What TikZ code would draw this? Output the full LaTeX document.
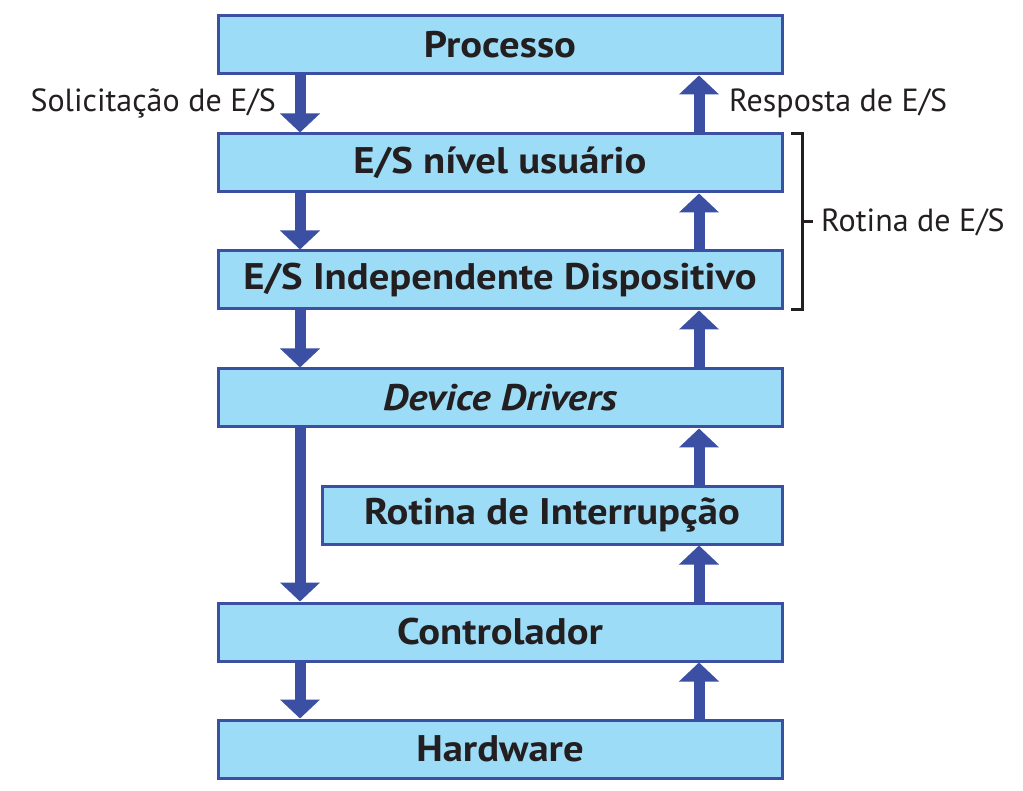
\documentclass[tikz,border=0pt]{standalone}
\usepackage{fontspec}
\setmainfont{PT Sans}
\newfontfamily\layerfont[FakeStretch=1.1]{PT Sans}
\usetikzlibrary{arrows.meta}
\definecolor{boxfill}{HTML}{9DDCF7}
\definecolor{boxline}{HTML}{3B4FA3}
\definecolor{txt}{HTML}{231F20}
\tikzset{
  layer/.style={draw=boxline, line width=3pt, fill=boxfill, minimum height=58pt,
    inner sep=0pt, text=txt, font=\layerfont\fontsize{37}{42}\selectfont\bfseries},
  wide/.style={layer, minimum width=564pt},
  flow/.style={draw=boxline, line width=11pt, -{Triangle[width=39pt,length=19pt]}, shorten <=-1pt},
  lbl/.style={text=txt, font=\fontsize{32}{38}\selectfont, inner sep=0pt},
  brace/.style={draw=txt, line width=3pt}
}
\begin{document}
\begin{tikzpicture}[x=1pt,y=-1pt]
\useasboundingbox (0,0) rectangle (1023,791);
\node[wide] (proc) at (500,45) {Processo};
\node[wide] (niv) at (500,163) {E/S nível usuário};
\node[wide] (ind) at (500,280) {E/S Independente Dispositivo};
\node[wide] (dd) at (500,398) {\itshape Device Drivers};
\node[layer, minimum width=460pt] (rot) at (552,515) {Rotina de Interrupção};
\node[wide] (ctl) at (500,632) {Controlador};
\node[wide] (hw) at (500,749) {Hardware};
\coordinate (lx) at (300,0);
\coordinate (rx) at (699,0);
% downward (request) arrows
\draw[flow] (proc.south -| lx) -- (niv.north -| lx);
\draw[flow] (niv.south -| lx) -- (ind.north -| lx);
\draw[flow] (ind.south -| lx) -- (dd.north -| lx);
\draw[flow] (dd.south -| lx) -- (ctl.north -| lx);
\draw[flow] (ctl.south -| lx) -- (hw.north -| lx);
% upward (response) arrows
\draw[flow] (hw.north -| rx) -- (ctl.south -| rx);
\draw[flow] (ctl.north -| rx) -- (rot.south -| rx);
\draw[flow] (rot.north -| rx) -- (dd.south -| rx);
\draw[flow] (dd.north -| rx) -- (ind.south -| rx);
\draw[flow] (ind.north -| rx) -- (niv.south -| rx);
\draw[flow] (niv.north -| rx) -- (proc.south -| rx);
% labels
\node[lbl, anchor=east] (sol) at (276,103) {Solicitação de E/S};
\node[lbl, anchor=west] (resp) at (729,103) {Resposta de E/S};
% bracket
\coordinate (bt) at (791,134);
\coordinate (bb) at (791,310);
\coordinate (bm) at (802,222);
\draw[brace] (bt) -- ++(11,0) |- (bb);
\draw[brace] (bm) -- ++(11,0);
\node[lbl, anchor=west] (rde) at (821,222) {Rotina de E/S};
\end{tikzpicture}
\end{document}
